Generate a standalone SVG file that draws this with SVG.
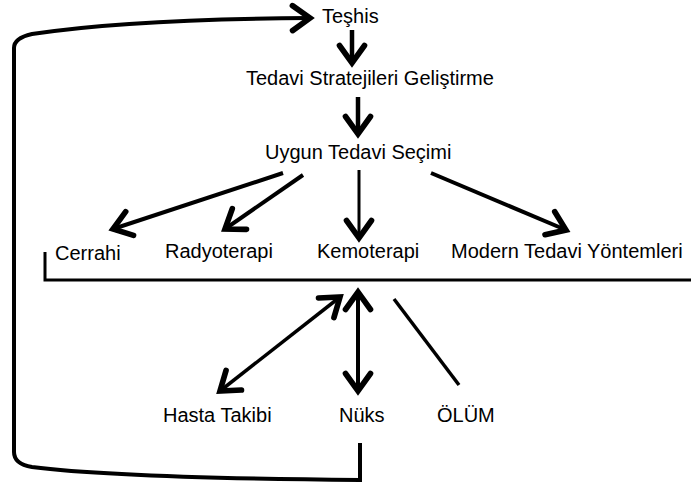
<svg xmlns="http://www.w3.org/2000/svg" width="691" height="484" viewBox="0 0 691 484">
<defs>
<marker id="ah" markerUnits="userSpaceOnUse" markerWidth="30" markerHeight="30" refX="0" refY="0" viewBox="-16 -12 20 24" orient="auto-start-reverse" overflow="visible">
<path d="M-14,-10 L0,0 L-14,10" fill="none" stroke="#000" stroke-width="4.5" stroke-linejoin="miter" stroke-linecap="round"/>
</marker>
<style>
text{font-family:"Liberation Sans",Arial,sans-serif;font-size:20px;fill:#000}
.c{fill:none;stroke:#000;stroke-width:4}
.a{marker-end:url(#ah)}
.d{marker-start:url(#ah);marker-end:url(#ah)}
</style>
</defs>
<rect width="691" height="484" fill="#fff"/>
<g id="connectors">
<path class="c a" d="M360,443 L360,480 Q120,478 32,467 Q14,464 14,452 L14,48 Q14,38 32,34 Q130,19 310,18"/>
<path class="c a" d="M352,30 L352,63" style="stroke-width:4.5"/>
<path class="c a" d="M358,97 L358,134" style="stroke-width:4.5"/>
<path class="c a" d="M283,173 L113,229"/>
<path class="c a" d="M303,175 L225,229"/>
<path class="c a" d="M359,170 L359,238" style="stroke-width:3"/>
<path class="c a" d="M431,173 L566,230"/>
<path class="c" d="M45,252 L45,280 L691,280" style="stroke-width:3"/>
<path class="c d" d="M340,297 L220,391" style="stroke-width:3.5"/>
<path class="c d" d="M358,292 L358,391"/>
<path class="c" d="M394,299 L459,385" style="stroke-width:3.5"/>
</g>
<g id="teshis"><text x="322" y="23">Teşhis</text></g>
<g id="strateji"><text x="246" y="85">Tedavi Stratejileri Geliştirme</text></g>
<g id="secim"><text x="265" y="159">Uygun Tedavi Seçimi</text></g>
<g id="cerrahi"><text x="55" y="260">Cerrahi</text></g>
<g id="radyoterapi"><text x="165" y="258">Radyoterapi</text></g>
<g id="kemoterapi"><text x="317" y="258">Kemoterapi</text></g>
<g id="modern"><text x="451" y="258">Modern Tedavi Yöntemleri</text></g>
<g id="hasta"><text x="163" y="422">Hasta Takibi</text></g>
<g id="nuks"><text x="339" y="422">Nüks</text></g>
<g id="olum"><text x="437" y="422">ÖLÜM</text></g>
</svg>
